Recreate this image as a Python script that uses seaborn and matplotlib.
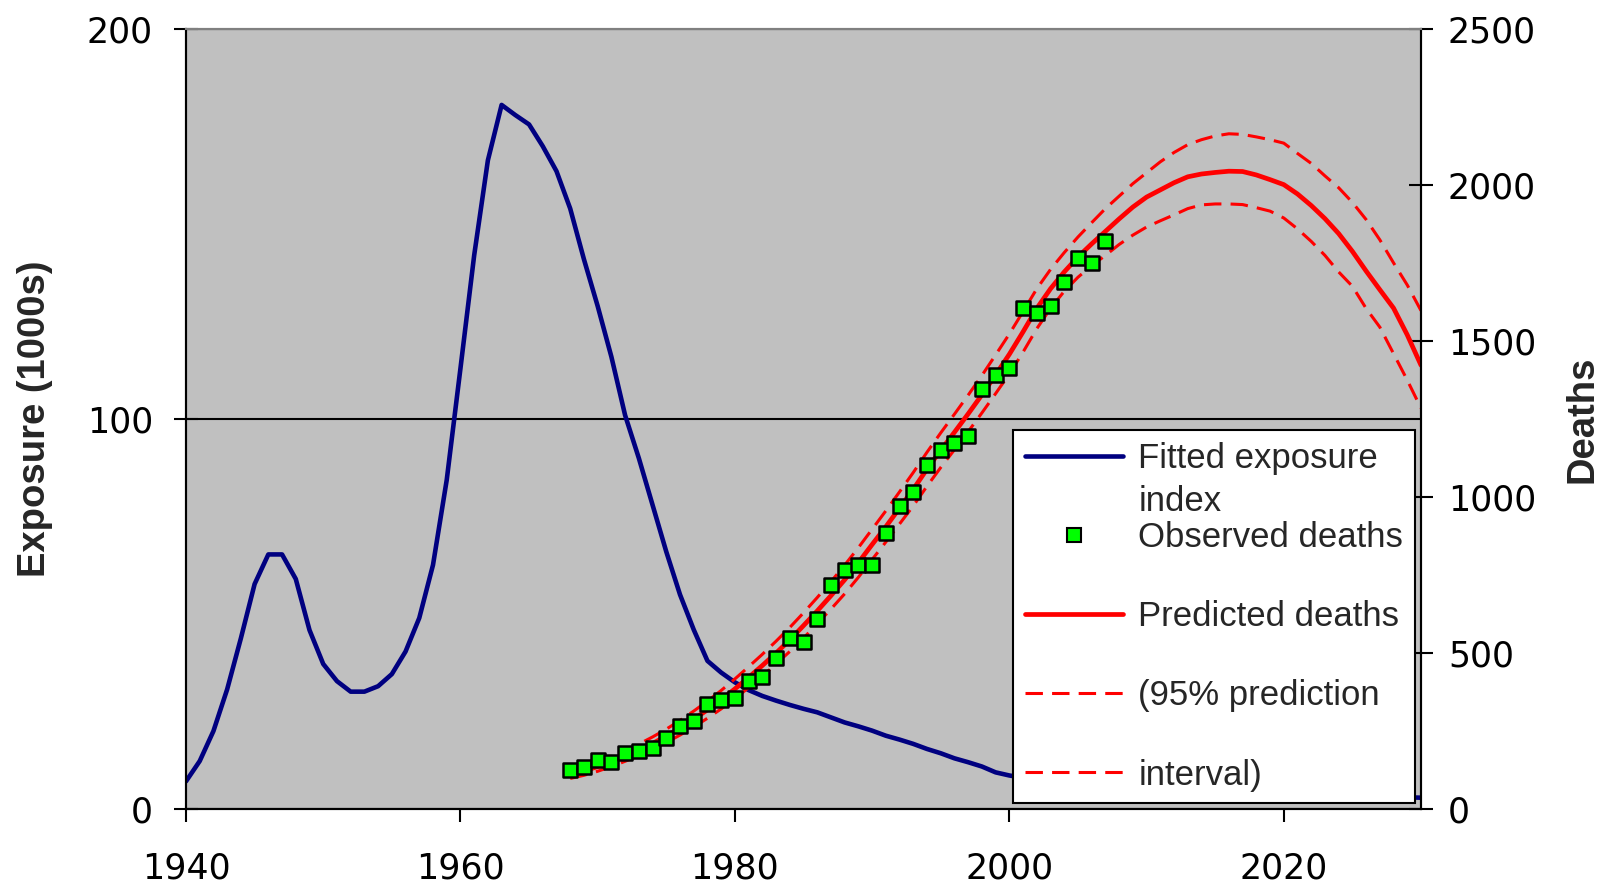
import matplotlib
matplotlib.use("Agg")
import matplotlib.pyplot as plt
from matplotlib.lines import Line2D
import seaborn as sns
import pandas as pd

# ---------------- data ----------------
exp_years = list(range(1940, 2031))
exposure = [7.1, 12.3, 20.0, 30.7, 43.8, 57.7, 65.3, 65.3, 59.0, 45.9,
            37.2, 32.8, 30.1, 30.1, 31.5, 34.6, 40.4, 49.0, 62.6, 84.4,
            113.0, 142.0, 166.4, 180.6, 178.0, 175.6, 170.0, 163.6, 154.0, 141.0,
            129.0, 116.0, 101.0, 90.0, 78.0, 66.0, 55.0, 46.0, 38.0, 35.0,
            32.5, 30.5, 29.0, 27.8, 26.7, 25.7, 24.8, 23.5, 22.2, 21.2,
            20.1, 18.8, 17.8, 16.7, 15.4, 14.3, 13.0, 12.0, 10.9, 9.4,
            8.6, 8.0, 7.6, 7.2, 6.9, 6.6, 6.3, 6.0, 5.8, 5.6,
            5.4, 5.2, 5.0, 4.8, 4.7, 4.5, 4.4, 4.2, 4.1, 4.0,
            3.9, 3.8, 3.7, 3.6, 3.5, 3.4, 3.3, 3.2, 3.1, 3.0, 2.9]

obs_years = list(range(1968, 2008))
obs_deaths = [124, 134, 157, 151, 180, 187, 197, 229, 265, 282,
              337, 351, 357, 410, 423, 485, 547, 537, 609, 718,
              767, 783, 783, 885, 970, 1016, 1104, 1150, 1173, 1196,
              1347, 1393, 1415, 1605, 1589, 1612, 1691, 1766, 1750, 1822]

pred_years = list(range(1968, 2031))
pred_deaths = [110, 122, 136, 152, 170, 189, 210, 234, 260, 288,
               318, 350, 385, 422, 460, 500, 542, 588, 635, 684,
               735, 790, 848, 905, 965, 1025, 1090, 1150, 1208, 1267,
               1328, 1392, 1458, 1530, 1605, 1668, 1722, 1770, 1812, 1852,
               1892, 1930, 1962, 1985, 2008, 2027, 2036, 2041, 2045, 2044,
               2033, 2018, 2002, 1972, 1935, 1893, 1845, 1788, 1725, 1665,
               1606, 1520, 1423]
upper_deaths = [124, 137, 152, 169, 188, 208, 231, 256, 284, 314,
                346, 380, 417, 456, 496, 538, 582, 629, 678, 729,
                782, 838, 897, 956, 1017, 1079, 1144, 1206, 1266, 1327,
                1390, 1456, 1523, 1595, 1668, 1730, 1784, 1834, 1880, 1925,
                1965, 2005, 2040, 2075, 2105, 2130, 2146, 2158, 2165, 2163,
                2155, 2146, 2135, 2102, 2070, 2030, 1992, 1945, 1890, 1825,
                1751, 1680, 1598]
lower_deaths = [98, 108, 121, 136, 153, 171, 191, 213, 237, 263,
                291, 321, 354, 389, 426, 465, 505, 548, 594, 641,
                690, 743, 800, 856, 914, 972, 1035, 1095, 1152, 1210,
                1270, 1332, 1395, 1465, 1540, 1605, 1660, 1705, 1742, 1775,
                1810, 1840, 1866, 1886, 1905, 1925, 1937, 1940, 1940, 1938,
                1928, 1917, 1895, 1860, 1820, 1775, 1722, 1676, 1605, 1545,
                1460, 1375, 1285]

x_ticks = [1940, 1960, 1980, 2000, 2020]
left_ticks = [0, 100, 200]
right_ticks = [0, 500, 1000, 1500, 2000, 2500]
legend_labels = ["Fitted exposure", "Observed deaths", "Predicted deaths",
                 "(95% prediction", "interval)"]

# ---------------- style ----------------
sns.set_style("ticks")
plt.rcParams['font.family'] = ['Liberation Sans', 'DejaVu Sans']

W, H = 1601, 884
fig = plt.figure(figsize=(W / 100, H / 100), dpi=100)
ax = fig.add_axes([186 / W, 1 - 809 / H, (1421 - 186) / W, (809 - 29.3) / H])
ax.set_facecolor('#C0C0C0')
ax2 = ax.twinx()

NAVY = '#000080'
RED = '#FF0000'
GREEN = '#00FF00'
dash = (0, (5.7, 3))

df_exp = pd.DataFrame({'year': exp_years, 'exposure': exposure})
df_obs = pd.DataFrame({'year': obs_years, 'deaths': obs_deaths})
df_pred = pd.DataFrame({'year': pred_years, 'pred': pred_deaths,
                        'upper': upper_deaths, 'lower': lower_deaths})

sns.lineplot(data=df_exp, x='year', y='exposure', ax=ax, color=NAVY, lw=3.3)
sns.lineplot(data=df_pred, x='year', y='upper', ax=ax2, color=RED, lw=2.2, linestyle=dash)
sns.lineplot(data=df_pred, x='year', y='lower', ax=ax2, color=RED, lw=2.2, linestyle=dash)
sns.lineplot(data=df_pred, x='year', y='pred', ax=ax2, color=RED, lw=3.4)
sns.scatterplot(data=df_obs, x='year', y='deaths', ax=ax2, marker='s', s=105,
                color=GREEN, edgecolor='black', linewidth=1.8, zorder=4)

# axes limits and ticks
ax.set_xlim(1940, 2030)
ax.set_ylim(0, 200)
ax2.set_ylim(0, 2500)
ax.set_xticks(x_ticks)
ax.set_yticks(left_ticks)
ax2.set_yticks(right_ticks)

ax.grid(False)
ax2.grid(False)
ax.yaxis.grid(True, color='black', lw=1.5)

tick_font = ['DejaVu Sans']
ax.tick_params(axis='x', direction='out', length=9.4, width=1.5, labelsize=25,
               pad=21.5, colors='black')
ax.tick_params(axis='y', direction='inout', length=17, width=1.5, labelsize=25,
               pad=15.3, colors='black')
ax2.tick_params(axis='y', direction='inout', length=17, width=1.5, labelsize=25,
                pad=10.9, colors='black')
for lab in ax.get_xticklabels() + ax.get_yticklabels() + ax2.get_yticklabels():
    lab.set_family(tick_font)

ax.set_xlabel('')
ax.set_ylabel('Exposure (1000s)', fontsize=27.5, fontweight='bold')
ax.yaxis.set_label_coords(-0.108, 0.5)
ax2.set_ylabel('Deaths', fontsize=27.5, fontweight='bold')
ax2.yaxis.set_label_coords(1.116, 0.5)

for a in (ax, ax2):
    for side in ('left', 'right', 'bottom'):
        a.spines[side].set_color('black')
        a.spines[side].set_linewidth(1.5)
        a.spines[side].set_visible(True)
    a.spines['top'].set_color('#808080')
    a.spines['top'].set_linewidth(1.5)
    a.spines['top'].set_visible(True)

# legend
handles = [
    Line2D([], [], color=NAVY, lw=3.3),
    Line2D([], [], ls='none', marker='s', ms=9.5, mfc=GREEN, mec='black', mew=1.5),
    Line2D([], [], color=RED, lw=3.4),
    Line2D([], [], color=RED, lw=2.2, ls=dash),
    Line2D([], [], color=RED, lw=2.2, ls=dash),
]
leg = ax2.legend(handles, legend_labels, loc='upper left',
                 bbox_to_anchor=(1013 / W, 1 - 430 / H), bbox_transform=fig.transFigure,
                 fontsize=25, frameon=True, fancybox=False, edgecolor='black',
                 facecolor='white', framealpha=1, borderpad=0.34, labelspacing=1.33,
                 handlelength=2.82, handletextpad=0.45, borderaxespad=0)
leg.get_frame().set_linewidth(1.5)
leg.set_zorder(10)

fig.canvas.draw()
bb = leg.get_texts()[0].get_window_extent()
fig.text(bb.x0 / W, (bb.y0 - 43.3) / H, 'index', fontsize=25, ha='left', va='bottom',
         zorder=20)

fig.savefig('out.png', dpi=100)
